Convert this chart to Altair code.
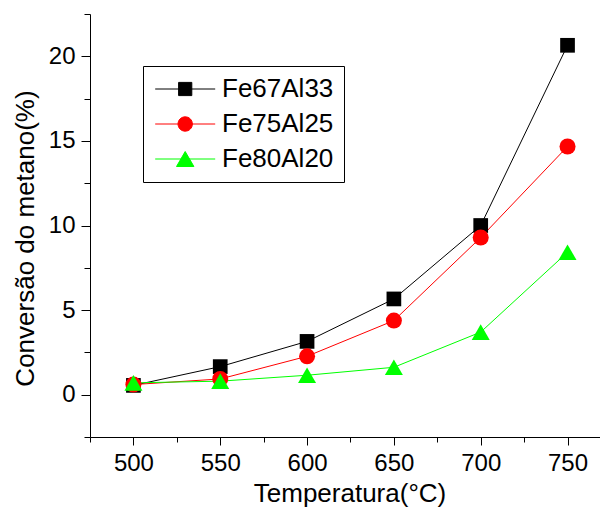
import altair as alt
import pandas as pd

temps = [500, 550, 600, 650, 700, 750]
series_names = ["Fe67Al33", "Fe75Al25", "Fe80Al20"]
fe67 = [0.55, 1.66, 3.15, 5.66, 10.0, 20.65]
fe75 = [0.6, 0.93, 2.27, 4.38, 9.29, 14.67]
fe80 = [0.7, 0.8, 1.15, 1.62, 3.7, 8.42]
colors = ["#000000", "#ff0000", "#00ff00"]
marker_shapes = ["square", "circle", "triangle-up"]
marker_sizes = [216, 256, 324]
legend_paths = [
    "M-1.8,0H8.2M2.1,-1.1H4.3V1.1H2.1Z",
    "M-1.8,0H8.2M4.4,0A1.2,1.2,0,1,1,2,0A1.2,1.2,0,1,1,4.4,0Z",
    "M-1.8,0H8.2M3.2,-1.25L4.65,1.25H1.75Z",
]
x_major = [500, 550, 600, 650, 700, 750]
x_minor = [475, 525, 575, 625, 675, 725]
y_major = [0, 5, 10, 15, 20]
y_minor = [-2.5, 2.5, 7.5, 12.5, 17.5, 22.5]

rows = []
for name, vals in zip(series_names, [fe67, fe75, fe80]):
    for t, v in zip(temps, vals):
        rows.append({"temp": t, "conv": v, "series": name})
df = pd.DataFrame(rows)

FONT = "Liberation Sans"
xs = alt.Scale(domain=[475, 768.7], nice=False, zero=False)
ys = alt.Scale(domain=[-2.5, 22.5], nice=False, zero=False)

x_axis_major = alt.Axis(values=x_major, orient="bottom", tickSize=8, labelPadding=6,
                        title="Temperatura(°C)", titleX=259.5, titleY=64,
                        titleBaseline="alphabetic", grid=False)
y_axis_major = alt.Axis(values=y_major, orient="left", tickSize=9, labelPadding=6,
                        title="Conversão do metano(%)", titleX=-57, titleY=224,
                        titleAngle=-90, titleBaseline="alphabetic", grid=False)
x_axis_minor = alt.Axis(values=x_minor, orient="bottom", tickSize=5, labels=False,
                        domain=False, title=None, grid=False)
y_axis_minor = alt.Axis(values=y_minor, orient="left", tickSize=6, labels=False,
                        domain=False, title=None, grid=False)

layers = []
for i, name in enumerate(series_names):
    layers.append(
        alt.Chart(df).transform_filter(alt.datum.series == name)
        .mark_line(color=colors[i], strokeWidth=1)
        .encode(
            x=alt.X("temp:Q", scale=xs, axis=x_axis_major if i == 0 else None),
            y=alt.Y("conv:Q", scale=ys, axis=y_axis_major if i == 0 else None),
        )
    )
for i, name in enumerate(series_names):
    layers.append(
        alt.Chart(df).transform_filter(alt.datum.series == name)
        .mark_point(filled=True, shape=marker_shapes[i], size=marker_sizes[i],
                    color=colors[i], opacity=1)
        .encode(
            x=alt.X("temp:Q", scale=xs, axis=None),
            y=alt.Y("conv:Q", scale=ys, axis=None),
        )
    )

leg = alt.Legend(orient="none", legendX=53, legendY=52, title=None,
                 labelFont=FONT, labelFontSize=26, labelColor="black",
                 symbolSize=144, symbolStrokeWidth=1, symbolOpacity=1,
                 labelOffset=43, rowPadding=9, padding=10,
                 strokeColor="black", fillColor="white")
color_scale = alt.Scale(domain=series_names, range=colors)
layers.append(
    alt.Chart(df).transform_calculate(hidden="datum.conv + 1000")
    .mark_point(filled=True, clip=True)
    .encode(
        x=alt.X("temp:Q", scale=xs, axis=x_axis_minor),
        y=alt.Y("hidden:Q", scale=ys, axis=y_axis_minor),
        color=alt.Color("series:N", scale=color_scale, legend=leg),
        stroke=alt.Stroke("series:N", scale=color_scale, legend=leg),
        shape=alt.Shape("series:N", scale=alt.Scale(domain=series_names, range=legend_paths), legend=leg),
    )
)

chart = (
    alt.layer(*layers)
    .resolve_axis(x="independent", y="independent")
    .properties(width=510, height=423,
                autosize=alt.AutoSizeParams(type="none"),
                padding={"left": 82, "top": 6, "right": 0, "bottom": 70})
    .configure(font=FONT)
    .configure_axis(labelFont=FONT, titleFont=FONT, labelFontSize=24, titleFontSize=26,
                    titleFontWeight="normal", labelColor="black", titleColor="black",
                    domainColor="black", tickColor="black", domainWidth=1, tickWidth=1)
    .configure_view(stroke=None)
)

chart.save("out.html", embed_options={"renderer": "svg", "actions": False})
